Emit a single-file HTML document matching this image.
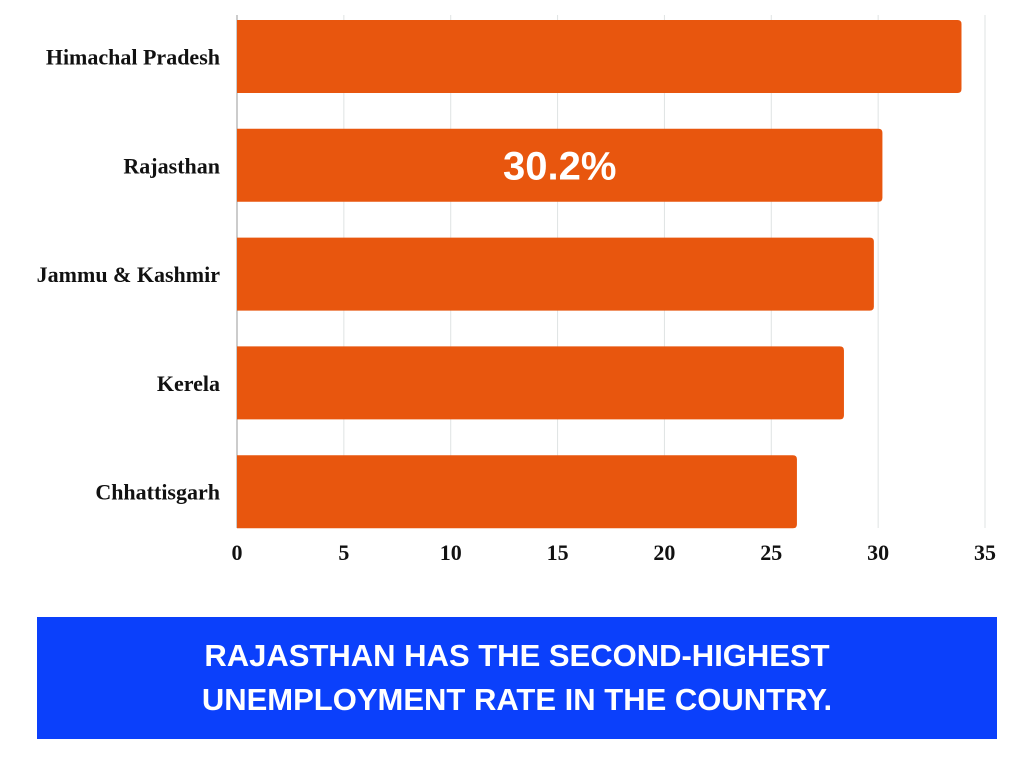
<!DOCTYPE html>
<html><head><meta charset="utf-8"><style>
body{margin:0;width:1024px;height:768px;background:#fff;overflow:hidden;font-family:"Liberation Serif",serif}
svg{position:absolute;left:0;top:0}
#banner{position:absolute;left:37px;top:617px;width:960px;height:122px;background:#0b40fb;color:#fff;font-family:"Liberation Sans",sans-serif;font-weight:bold;font-size:31px;text-align:center;line-height:44px;display:flex;align-items:center;justify-content:center}
</style></head><body>
<svg id="chart" width="1024" height="600"></svg>
<div id="banner">RAJASTHAN HAS THE SECOND-HIGHEST<br>UNEMPLOYMENT RATE IN THE COUNTRY.</div>
<script>
const categories=["Himachal Pradesh","Rajasthan","Jammu & Kashmir","Kerela","Chhattisgarh"];
const values=[33.9,30.2,29.8,28.4,26.2];
const ticks=[0,5,10,15,20,25,30,35];
const highlight="30.2%";
const NS="http://www.w3.org/2000/svg";
const svg=document.getElementById('chart');
const x0=237,x1=985,xmax=35,top0=20,pitch=108.8,bh=73;
const xs=v=>x0+(x1-x0)*v/xmax;
function mk(t,a){const e=document.createElementNS(NS,t);for(const k in a)e.setAttribute(k,a[k]);svg.appendChild(e);return e;}
ticks.forEach(t=>{
 const g=mk('line',{x1:xs(t),x2:xs(t),y1:15,y2:528,stroke:t===0?'#999':'#dfe3e3','stroke-width':1});
 
 
 const l=mk('text',{x:xs(t),y:560,'text-anchor':'middle','font-size':22,'font-weight':'bold',fill:'#111'});
 l.textContent=t;
 
 
});
categories.forEach((c,i)=>{
 const y=top0+i*pitch;
 const w=xs(values[i])-x0;
 const p=mk('path',{d:`M${x0},${y}H${x0+w-4}Q${x0+w},${y} ${x0+w},${y+4}V${y+bh-4}Q${x0+w},${y+bh} ${x0+w-4},${y+bh}H${x0}Z`,fill:'#e8560e'});
 
 
 const l=mk('text',{x:220,y:y+bh/2+8,'text-anchor':'end','font-size':22,'font-weight':'bold',fill:'#111'});
 l.textContent=c;
 
 
 if(i===1){
  const v=mk('text',{x:(x0+x0+w)/2,y:y+bh/2+14,'text-anchor':'middle','font-size':40,'font-weight':'bold',fill:'#fff','font-family':'Liberation Sans, sans-serif'});
  v.textContent=highlight;
  
  
 }
});
</script>
</body></html>
